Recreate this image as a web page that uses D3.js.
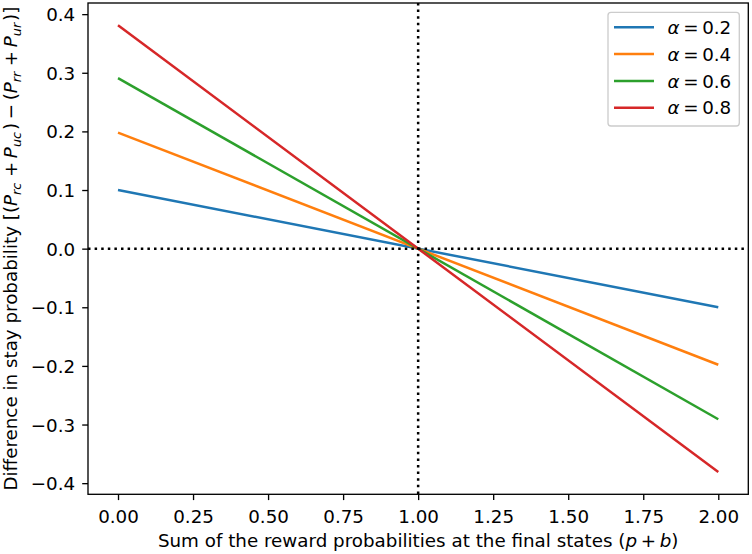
<!DOCTYPE html>
<html>
<head>
<meta charset="utf-8">
<script src="https://cdn.jsdelivr.net/npm/d3@7"></script>
<style>
  body { margin: 0; background: #fff; }
  text { font-family: "DejaVu Sans", sans-serif; fill: #000; }
</style>
</head>
<body>
<div id="graph"></div>
<script>
// values
var alphas = [0.2, 0.4, 0.6, 0.8]
var xEnds = [0, 2]
var startVals = [0.1, 0.198, 0.291, 0.381]
var endVals = [-0.1, -0.198, -0.291, -0.381]
var colors = ['#1f77b4', '#ff7f0e', '#2ca02c', '#d62728']
var xTicks = [0, 0.25, 0.5, 0.75, 1, 1.25, 1.5, 1.75, 2]
var yTicks = [-0.4, -0.3, -0.2, -0.1, 0, 0.1, 0.2, 0.3, 0.4]

var W = 752, H = 554
var m = {left: 88, right: 752 - 748.3, top: 3, bottom: 554 - 494.3}
var fs = 18.3

var svg = d3.select('#graph').append('svg')
    .attr('width', W).attr('height', H)

var x = d3.scaleLinear().domain([-0.1, 2.1]).range([m.left, W - m.right])
var y = d3.scaleLinear().domain([-0.419, 0.419]).range([H - m.bottom, m.top])

var series = alphas.map(function(a, i){
  return {alpha: a, color: colors[i],
    pts: [[xEnds[0], startVals[i]], [xEnds[1], endVals[i]]]}
})

var line = d3.line().x(function(d){ return x(d[0]) }).y(function(d){ return y(d[1]) })

svg.selectAll('path.series').data(series).enter().append('path')
    .attr('class', 'series')
    .attr('d', function(d){ return line(d.pts) })
    .attr('fill', 'none')
    .attr('stroke', function(d){ return d.color })
    .attr('stroke-width', 2.5)

// dotted reference lines
svg.append('line')
    .attr('x1', x(1)).attr('x2', x(1)).attr('y1', y.range()[1]).attr('y2', y.range()[0])
    .attr('stroke', '#000').attr('stroke-width', 2.5).attr('stroke-dasharray', '2.5,4.1')
svg.append('line')
    .attr('x1', x.range()[0]).attr('x2', x.range()[1]).attr('y1', y(0)).attr('y2', y(0))
    .attr('stroke', '#000').attr('stroke-width', 2.5).attr('stroke-dasharray', '2.5,4.1')

// axes
var xAxis = svg.append('g')
    .attr('transform', 'translate(0,' + (H - m.bottom) + ')')
    .call(d3.axisBottom(x).tickValues(xTicks).tickFormat(d3.format('.2f')).tickSize(5.8).tickPadding(5.8))
var yAxis = svg.append('g')
    .attr('transform', 'translate(' + m.left + ',0)')
    .call(d3.axisLeft(y).tickValues(yTicks).tickFormat(d3.format('.1f')).tickSize(5.8).tickPadding(7))

;[xAxis, yAxis].forEach(function(g){
  g.select('.domain').remove()
  g.selectAll('.tick line').attr('stroke', '#000').attr('stroke-width', 1.33)
  g.selectAll('.tick text').style('font-size', fs + 'px').attr('fill', '#000')
    .style('font-family', '"DejaVu Sans", sans-serif')
})
xAxis.selectAll('.tick text').attr('y', 29).attr('dy', null)
yAxis.selectAll('.tick text').attr('dy', '0.36em')

svg.append('rect')
    .attr('x', m.left).attr('y', m.top)
    .attr('width', W - m.right - m.left).attr('height', H - m.bottom - m.top)
    .attr('fill', 'none').attr('stroke', '#000').attr('stroke-width', 1.33)

// x label
var xl = svg.append('text')
    .attr('x', (m.left + W - m.right) / 2).attr('y', 546.5)
    .attr('text-anchor', 'middle').style('font-size', fs + 'px')
xl.append('tspan').text('Sum of the reward probabilities at the final states (')
xl.append('tspan').style('font-style', 'italic').text('p')
xl.append('tspan').text('\u2009+\u2009')
xl.append('tspan').style('font-style', 'italic').text('b')
xl.append('tspan').text(')')

// y label
var yl = svg.append('text')
    .attr('transform', 'translate(17,' + ((m.top + H - m.bottom) / 2) + ') rotate(-90)')
    .attr('text-anchor', 'middle').style('font-size', fs + 'px')
function P(sub){
  yl.append('tspan').style('font-style', 'italic').text('P')
  yl.append('tspan').style('font-style', 'italic').style('font-size', (fs * 0.7) + 'px')
      .attr('dy', 3.8).text(sub)
  yl.append('tspan').attr('dy', -3.8).text('\u200a')
}
yl.append('tspan').text('Difference in stay probability [(')
P('rc')
yl.append('tspan').text('\u2009+\u2009')
P('uc')
yl.append('tspan').text(')\u2009\u2212\u2009(')
P('rr')
yl.append('tspan').text('\u2009+\u2009')
P('ur')
yl.append('tspan').text(')]')

// legend
var lg = svg.append('g')
lg.append('rect')
    .attr('x', 608).attr('y', 12.3).attr('width', 131.3).attr('height', 113.7)
    .attr('rx', 3).attr('fill', '#fff').attr('fill-opacity', 0.8)
    .attr('stroke', '#cccccc').attr('stroke-width', 1.33)

var rows = lg.selectAll('g.row').data(series).enter().append('g')
    .attr('class', 'row')
    .attr('transform', function(d, i){ return 'translate(0,' + (27.3 + i * 26.8) + ')' })
rows.append('line')
    .attr('x1', 614).attr('x2', 654)
    .attr('stroke', function(d){ return d.color }).attr('stroke-width', 2.5)
var lt = rows.append('text')
    .attr('x', 667.5).attr('y', 6.6).style('font-size', fs + 'px')
lt.append('tspan').style('font-style', 'italic').text('\u03b1')
lt.append('tspan').text(function(d){ return '\u2009=\u2009' + d.alpha.toFixed(1) })
</script>
</body>
</html>
